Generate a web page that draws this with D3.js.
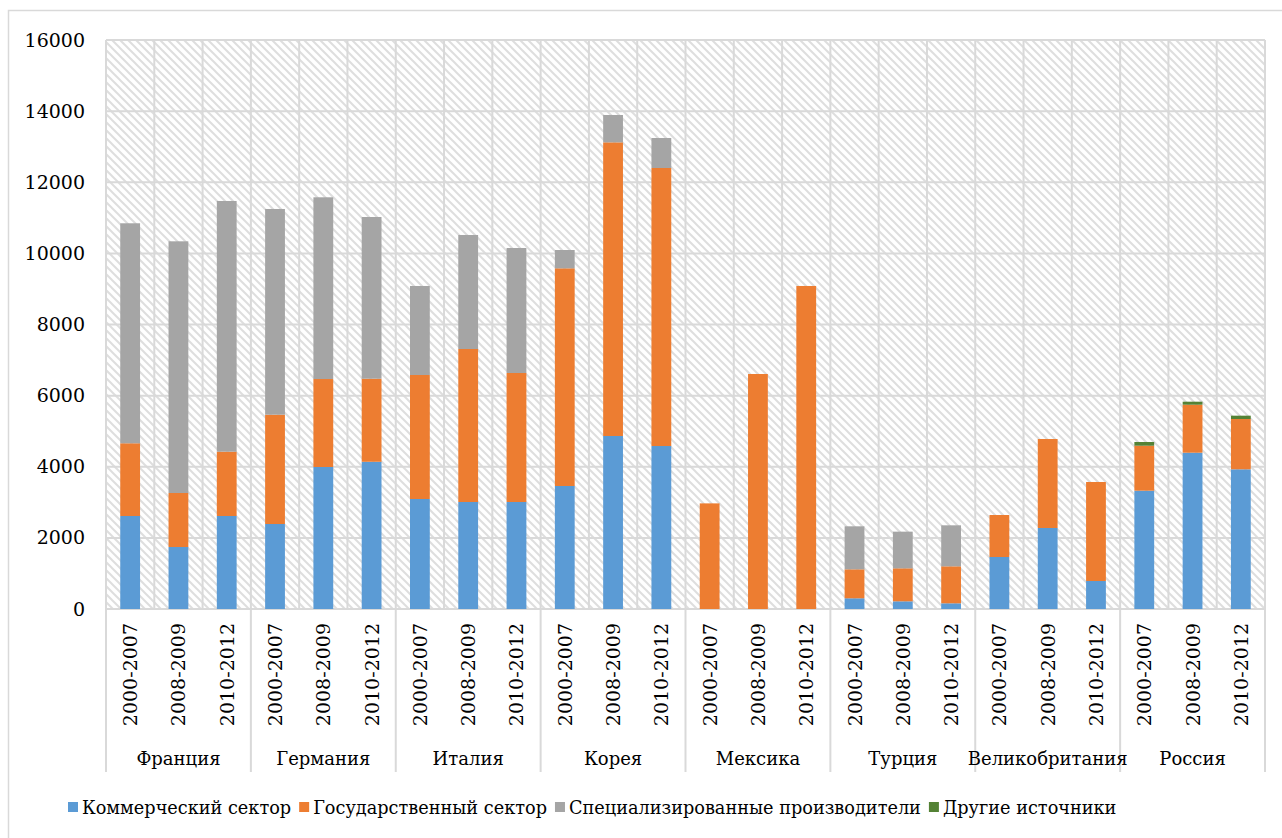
<!DOCTYPE html>
<html>
<head>
<meta charset="utf-8">
<script src="https://cdn.jsdelivr.net/npm/d3@7"></script>
<style>
  html, body { margin: 0; padding: 0; background: #fff; }
  svg { display: block; }
</style>
</head>
<body>
<svg id="chart" width="1282" height="838"></svg>
<script>
const countries = ["Франция", "Германия", "Италия", "Корея", "Мексика", "Турция", "Великобритания", "Россия"];
const periods = ["2000-2007", "2008-2009", "2010-2012"];
const seriesNames = ["Коммерческий сектор", "Государственный сектор", "Специализированные производители", "Другие источники"];
const seriesColors = ["#5B9BD5", "#ED7D31", "#A5A5A5", "#548235"];

const commercial  = [2615, 1743, 2615, 2390, 3993, 4140, 3093, 3009, 3009, 3459, 4865, 4583, 0, 0, 0, 301, 216, 160, 1462, 2278, 787, 3327, 4395, 3928];
const government  = [2045, 1519, 1809, 3074, 2474, 2336, 3487, 4302, 3627, 6121, 8257, 7818, 2970, 6608, 9083, 815, 928, 1040, 1181, 2502, 2784, 1265, 1350, 1415];
const specialized = [6186, 7077, 7049, 5784, 5110, 4547, 2503, 3206, 3515, 515, 769, 843, 0, 0, 0, 1209, 1031, 1153, 0, 0, 0, 0, 0, 0];
const other       = [0, 0, 0, 0, 0, 0, 0, 0, 0, 0, 0, 0, 0, 0, 0, 0, 0, 0, 0, 0, 0, 104, 84, 93];
const yTicks = [0, 2000, 4000, 6000, 8000, 10000, 12000, 14000, 16000];

const FONT = "DejaVu Serif";
const FS = 19;
const svg = d3.select("#chart");
const plot = { left: 106, right: 1265, top: 40, bottom: 609 };
const gridColor = "#d9d9d9";

const rows = [];
countries.forEach((c, ci) => periods.forEach((p, pi) => {
  const i = ci * periods.length + pi;
  rows.push({ key: c + "|" + p, country: c, period: p, s0: commercial[i], s1: government[i], s2: specialized[i], s3: other[i] });
}));

const x = d3.scaleBand().domain(rows.map(r => r.key)).range([plot.left, plot.right]).paddingInner(0).paddingOuter(0);
const y = d3.scaleLinear().domain([0, 16000]).range([plot.bottom, plot.top]);

svg.append("rect").attr("x", 8.5).attr("y", 10.5).attr("width", 1300).attr("height", 860)
  .attr("fill", "#fff").attr("stroke", gridColor).attr("stroke-width", 1.5);

const defs = svg.append("defs");
const pat = defs.append("pattern").attr("id", "hatch").attr("patternUnits", "userSpaceOnUse")
  .attr("width", 8).attr("height", 8);
pat.append("rect").attr("width", 8).attr("height", 8).attr("fill", "#fff");
pat.append("path").attr("d", "M-2,-2 L10,10 M-2,6 L2,10 M6,-2 L10,2")
  .attr("stroke", "#dedede").attr("stroke-width", 2);

svg.append("rect").attr("x", plot.left).attr("y", plot.top)
  .attr("width", plot.right - plot.left).attr("height", plot.bottom - plot.top)
  .attr("fill", "url(#hatch)");

svg.append("g").selectAll("line").data(yTicks).join("line")
  .attr("x1", plot.left).attr("x2", plot.right)
  .attr("y1", d => y(d)).attr("y2", d => y(d))
  .attr("stroke", gridColor).attr("stroke-width", 2);

const boundaries = rows.map((r, i) => ({ x: x(r.key), group: i % periods.length === 0 }));
boundaries.push({ x: plot.right, group: true });
svg.append("g").selectAll("line").data(boundaries).join("line")
  .attr("x1", d => d.x).attr("x2", d => d.x)
  .attr("y1", plot.top).attr("y2", d => d.group ? 772 : plot.bottom)
  .attr("stroke", gridColor).attr("stroke-width", 2);

const stack = d3.stack().keys(["s0", "s1", "s2", "s3"]);
const stacked = stack(rows);
const barW = x.bandwidth() * 0.41;
svg.append("g").selectAll("g").data(stacked).join("g")
  .attr("fill", (d, i) => seriesColors[i])
  .selectAll("rect").data(d => d.filter(v => v[1] - v[0] > 0)).join("rect")
  .attr("x", d => x(d.data.key) + (x.bandwidth() - barW) / 2)
  .attr("width", barW)
  .attr("y", d => y(d[1]))
  .attr("height", d => y(d[0]) - y(d[1]));

const yAxis = d3.axisLeft(y).tickValues(yTicks).tickFormat(d3.format("d")).tickSize(0).tickPadding(21);
const gy = svg.append("g").attr("transform", `translate(${plot.left},0)`).call(yAxis);
gy.select(".domain").remove();
gy.selectAll("text").attr("font-size", FS).attr("fill", "#000").attr("font-family", FONT);

svg.append("g").selectAll("text").data(rows).join("text")
  .attr("transform", d => `translate(${x(d.key) + x.bandwidth() / 2 + 7},623) rotate(-90)`)
  .attr("text-anchor", "end")
  .attr("font-family", FONT)
  .attr("font-size", FS).attr("fill", "#000")
  .text(d => d.period);

const groupW = x.bandwidth() * periods.length;
svg.append("g").selectAll("text").data(countries).join("text")
  .attr("x", (d, i) => plot.left + groupW * i + groupW / 2)
  .attr("y", 765)
  .attr("text-anchor", "middle")
  .attr("font-family", FONT)
  .attr("font-size", FS - 1).attr("fill", "#000")
  .text(d => d);

const lg = svg.append("g");
let lx = 68;
seriesNames.forEach((name, i) => {
  const g = lg.append("g").attr("transform", `translate(${lx},802)`);
  g.append("rect").attr("width", 10).attr("height", 10).attr("fill", seriesColors[i]);
  const t = g.append("text").attr("x", 14).attr("y", 12).attr("font-size", 17.7).attr("fill", "#000")
    .attr("font-family", FONT).text(name);
  lx += 14 + t.node().getComputedTextLength() + 8;
});
</script>
</body>
</html>
